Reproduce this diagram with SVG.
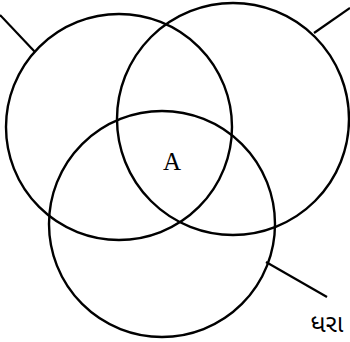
<svg xmlns="http://www.w3.org/2000/svg" width="350" height="342" viewBox="0 0 350 342">
<style>
.c{fill:none;stroke:#000;stroke-width:2.4}
.l{stroke:#000;stroke-width:2.2;fill:none}
.t{fill:#000}
</style>
<rect width="350" height="342" fill="#fff"/>
<g id="connectors">
<line class="l" x1="0" y1="15" x2="35" y2="52"/>
<line class="l" x1="314" y1="33" x2="350" y2="8"/>
<line class="l" x1="266" y1="262" x2="327" y2="297"/>
</g>
<g id="circle1"><circle class="c" cx="119" cy="127" r="113"/></g>
<g id="circle2"><circle class="c" cx="233" cy="119" r="116"/></g>
<g id="circle3"><circle class="c" cx="162" cy="224" r="113"/></g>
<g id="labelA"><text class="t" x="172" y="170" font-family="Liberation Serif, serif" font-size="25" text-anchor="middle">A</text></g>
<g id="labelDhara"><text class="t" x="327" y="332" font-family="Noto Sans Gujarati, Noto Sans, sans-serif" font-size="25" text-anchor="middle">ધરા</text></g>
</svg>
